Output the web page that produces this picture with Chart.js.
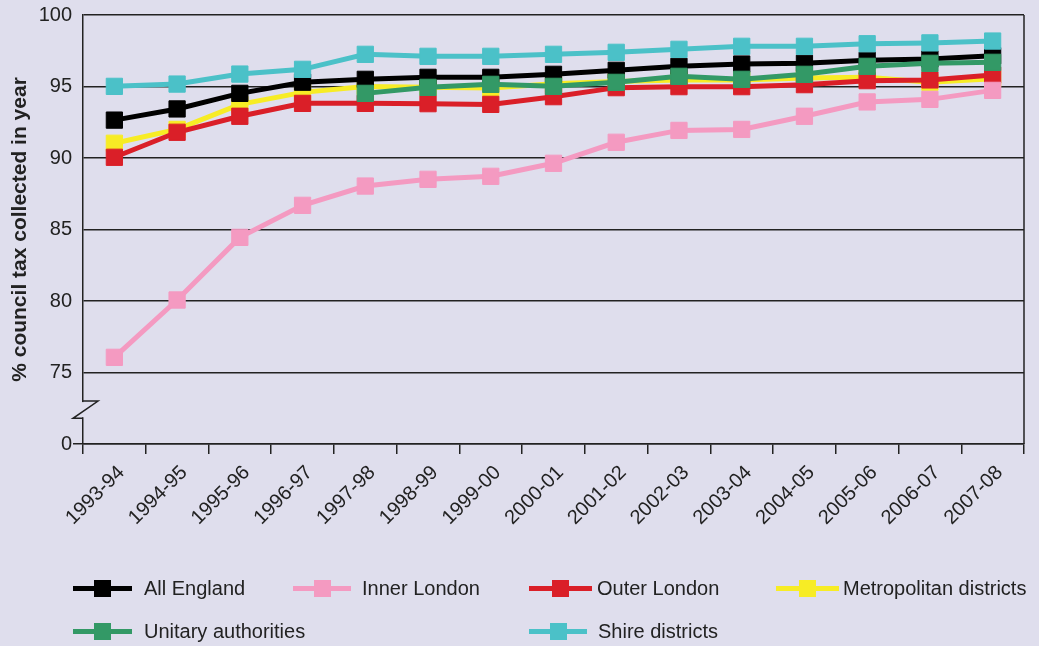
<!doctype html>
<html>
<head>
<meta charset="utf-8">
<title>Council tax collected in year</title>
<script src="https://cdn.jsdelivr.net/npm/chart.js@4.4.1/dist/chart.umd.min.js"></script>
<style>
  body { margin: 0; background: #dfdeed; }
  #wrap { position: relative; width: 1039px; height: 646px; }
  .key { position: absolute; height: 24px; display: flex; align-items: center;
         font: 20px "Liberation Sans", Arial, sans-serif; color: #222; white-space: nowrap; }
  .key .sym { position: relative; height: 5px; }
  .key .sym span { position: absolute; top: -6px; width: 17px; height: 17px; }
</style>
</head>
<body>
<div id="wrap">
  <canvas id="chart" width="1039" height="646"></canvas>
  <div id="legend"></div>
</div>
<script>
  const years = ['1993-94', '1994-95', '1995-96', '1996-97', '1997-98', '1998-99', '1999-00', '2000-01',
                 '2001-02', '2002-03', '2003-04', '2004-05', '2005-06', '2006-07', '2007-08'];

  const allEngland   = [92.65, 93.43, 94.52, 95.3, 95.5, 95.64, 95.64, 95.85, 96.13, 96.41, 96.57, 96.62, 96.83, 96.92, 97.15];
  const innerLondon  = [76.06, 80.07, 84.45, 86.69, 88.04, 88.51, 88.72, 89.63, 91.1, 91.93, 92.0, 92.92, 93.92, 94.1, 94.73];
  const outerLondon  = [90.05, 91.8, 92.92, 93.82, 93.82, 93.8, 93.75, 94.29, 94.92, 94.99, 94.99, 95.13, 95.41, 95.46, 95.8];
  const metropolitan = [91.03, 92.0, 93.75, 94.59, 95.0, 94.95, 94.9, 95.2, 95.35, 95.45, 95.45, 95.6, 95.65, 95.3, 95.55];
  const unitary      = [null, null, null, null, 94.52, 94.94, 95.15, 95.01, 95.29, 95.71, 95.5, 95.85, 96.41, 96.62, 96.69];
  const shire        = [95.01, 95.17, 95.87, 96.2, 97.25, 97.11, 97.11, 97.25, 97.39, 97.6, 97.81, 97.81, 97.99, 98.05, 98.18];

  const yTicks = [70, 75, 80, 85, 90, 95, 100];   // 70 sits where the broken axis shows 0
  const bg = '#dfdeed';
  const ink = '#222';
  const font = '"Liberation Sans", Arial, sans-serif';

  // order: higher is drawn first (underneath)
  function series(label, data, colour, order) {
    return {
      label: label, data: data, order: order,
      borderColor: colour, backgroundColor: colour,
      borderWidth: 5, tension: 0,
      pointStyle: 'rect', pointRadius: 11.5, pointHoverRadius: 11.5,
      pointBorderWidth: 1, pointBorderColor: colour, pointBackgroundColor: colour
    };
  }

  const axisBreak = {
    id: 'axisBreak',
    afterDraw(chart) {
      const ctx = chart.ctx, area = chart.chartArea, y = chart.scales.y;
      const x0 = area.left;
      const yTop = y.getPixelForValue(73.0), yBot = y.getPixelForValue(71.8);
      ctx.save();
      ctx.fillStyle = bg;
      ctx.fillRect(x0 - 2, yTop + 1, 4, yBot - yTop - 2);
      ctx.strokeStyle = ink;
      ctx.lineWidth = 1.5;
      ctx.beginPath();
      ctx.moveTo(x0, yTop);
      ctx.lineTo(x0 + 15, yTop);
      ctx.lineTo(x0 - 10, yBot);
      ctx.lineTo(x0, yBot);
      ctx.stroke();
      ctx.beginPath();
      ctx.moveTo(area.right, area.top);
      ctx.lineTo(area.right, area.bottom);
      ctx.stroke();
      ctx.restore();
    }
  };

  const chart = new Chart(document.getElementById('chart'), {
    type: 'line',
    data: {
      labels: years,
      datasets: [
        series('All England', allEngland, '#000000', 5),
        series('Inner London', innerLondon, '#f49ac1', 3),
        series('Outer London', outerLondon, '#da1f28', 4),
        series('Metropolitan districts', metropolitan, '#f7ec25', 6),
        series('Unitary authorities', unitary, '#339966', 2),
        series('Shire districts', shire, '#4bc1c8', 1)
      ]
    },
    options: {
      responsive: false,
      animation: false,
      layout: { padding: { top: 15, right: 15, bottom: 82, left: 0 } },
      plugins: { legend: { display: false }, tooltip: { enabled: false } },
      scales: {
        x: {
          offset: true,
          afterFit: function (scale) { scale.height = 120; },
          grid: { offset: true, drawOnChartArea: false, tickLength: 10, color: ink, lineWidth: 1.5 },
          border: { color: ink, width: 1.5 },
          ticks: { minRotation: 45, maxRotation: 45, padding: 7, labelOffset: 7, color: ink, font: { family: font, size: 20 } }
        },
        y: {
          min: 70, max: 100,
          afterFit: function (scale) { scale.width = 83; },
          afterBuildTicks: function (scale) { scale.ticks = yTicks.map(v => ({ value: v })); },
          grid: {
            color: ink, lineWidth: 1.5, tickLength: 10,
            tickColor: ctx => (ctx.tick && ctx.tick.value === 70) ? ink : 'rgba(0,0,0,0)'
          },
          border: { color: ink, width: 1.5 },
          ticks: {
            padding: 1, color: ink, font: { family: font, size: 20 },
            callback: v => v === 70 ? '0' : String(v)
          },
          title: {
            display: true, text: '% council tax collected in year', color: ink,
            padding: { top: 8, bottom: 0 },
            font: { family: font, size: 21, weight: 'bold' }
          }
        }
      }
    },
    plugins: [axisBreak]
  });

  // legend laid out in the same two-row grid as the original
  const slots = [
    { left: 73, top: 576, line: 59, gap: 12 },
    { left: 293, top: 576, line: 58, gap: 11 },
    { left: 529, top: 576, line: 63, gap: 5 },
    { left: 776, top: 576, line: 63, gap: 4 },
    { left: 73, top: 619, line: 59, gap: 12 },
    { left: 529, top: 619, line: 58, gap: 11 }
  ];
  const legend = document.getElementById('legend');
  chart.data.datasets.forEach(function (ds, i) {
    const s = slots[i];
    const item = document.createElement('div');
    item.className = 'key';
    item.style.left = s.left + 'px';
    item.style.top = s.top + 'px';
    const sym = document.createElement('div');
    sym.className = 'sym';
    sym.style.width = s.line + 'px';
    sym.style.marginRight = s.gap + 'px';
    sym.style.background = ds.borderColor;
    const sq = document.createElement('span');
    sq.style.left = Math.round((s.line - 17) / 2) + 'px';
    sq.style.background = ds.borderColor;
    sym.appendChild(sq);
    const txt = document.createElement('span');
    txt.textContent = ds.label;
    item.appendChild(sym);
    item.appendChild(txt);
    legend.appendChild(item);
  });
</script>
</body>
</html>
